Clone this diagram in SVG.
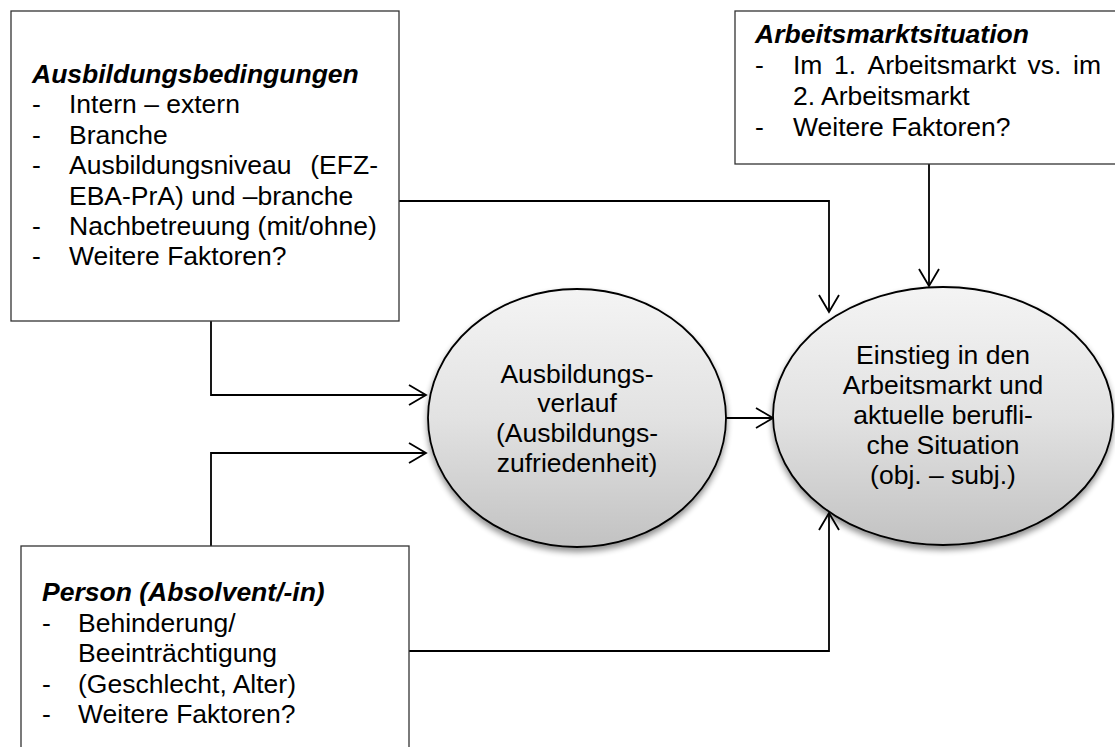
<svg xmlns="http://www.w3.org/2000/svg" width="1115" height="747" viewBox="0 0 1115 747">
<style>
.box{fill:#fff;stroke:#333;stroke-width:1.3}
.t{font-family:"Liberation Sans",Arial,sans-serif;font-size:26.5px;fill:#000}
.h{font-weight:bold;font-style:italic}
.c{text-anchor:middle}
.ell{fill:url(#g);stroke:#000;stroke-width:1.8}
.con{fill:none;stroke:#000;stroke-width:1.8}
</style>
<defs>
<linearGradient id="g" x1="0" y1="0" x2="0" y2="1">
<stop offset="0" stop-color="#f4f4f4"/>
<stop offset="0.5" stop-color="#e2e2e2"/>
<stop offset="1" stop-color="#c2c2c2"/>
</linearGradient>
<filter id="sh" x="-20%" y="-20%" width="140%" height="150%">
<feGaussianBlur in="SourceAlpha" stdDeviation="3"/>
<feOffset dy="4" result="b"/>
<feComponentTransfer><feFuncA type="linear" slope="0.45"/></feComponentTransfer>
<feMerge><feMergeNode/><feMergeNode in="SourceGraphic"/></feMerge>
</filter>
<marker id="a" viewBox="0 0 20 22" refX="18" refY="11" markerWidth="20" markerHeight="22" markerUnits="userSpaceOnUse" orient="auto">
<path d="M1,1 L18,11 L1,21" fill="none" stroke="#000" stroke-width="1.8"/>
</marker>
</defs>

<g id="connectors">
<path class="con" d="M399,201 H829 V312" marker-end="url(#a)"/>
<path class="con" d="M929,164 V286" marker-end="url(#a)"/>
<path class="con" d="M211,321 V395 H426" marker-end="url(#a)"/>
<path class="con" d="M211,546 V453 H426" marker-end="url(#a)"/>
<path class="con" d="M726,418 H773" marker-end="url(#a)"/>
<path class="con" d="M409,651 H829 V513" marker-end="url(#a)"/>
</g>

<g id="ausbildungsbedingungen">
<rect class="box" x="11" y="11" width="388" height="310"/>
<text class="t h" x="32" y="83">Ausbildungsbedingungen</text>
<text class="t" x="32" y="113">-</text><text class="t" x="69" y="113">Intern – extern</text>
<text class="t" x="32" y="144">-</text><text class="t" x="69" y="144">Branche</text>
<text class="t" x="32" y="174">-</text><text class="t" x="69" y="174">Ausbildungsniveau</text><text class="t" x="378" y="174" text-anchor="end">(EFZ-</text>
<text class="t" x="69" y="205">EBA-PrA) und –branche</text>
<text class="t" x="32" y="235">-</text><text class="t" x="69" y="235">Nachbetreuung (mit/ohne)</text>
<text class="t" x="32" y="265">-</text><text class="t" x="69" y="265">Weitere Faktoren?</text>
</g>

<g id="arbeitsmarktsituation">
<rect class="box" x="735" y="11" width="385" height="153"/>
<text class="t h" x="755" y="43">Arbeitsmarktsituation</text>
<text class="t" x="755" y="74">-</text>
<text class="t" y="74"><tspan x="793">Im</tspan><tspan x="834">1.</tspan><tspan x="867.5">Arbeitsmarkt</tspan><tspan x="1027.5">vs.</tspan></text>
<text class="t" x="1101" y="74" text-anchor="end">im</text>
<text class="t" x="793" y="105">2. Arbeitsmarkt</text>
<text class="t" x="755" y="136">-</text><text class="t" x="793" y="136">Weitere Faktoren?</text>
</g>

<g id="person">
<rect class="box" x="21" y="546" width="388" height="210"/>
<text class="t h" x="42" y="601">Person (Absolvent/-in)</text>
<text class="t" x="42" y="632">-</text><text class="t" x="78" y="632">Behinderung/</text>
<text class="t" x="78" y="662">Beeinträchtigung</text>
<text class="t" x="42" y="693">-</text><text class="t" x="78" y="693">(Geschlecht, Alter)</text>
<text class="t" x="42" y="723">-</text><text class="t" x="78" y="723">Weitere Faktoren?</text>
</g>

<g id="ausbildungsverlauf">
<ellipse class="ell" cx="577" cy="418" rx="149" ry="129" filter="url(#sh)"/>
<text class="t c" x="577" y="383">Ausbildungs-</text>
<text class="t c" x="577" y="412">verlauf</text>
<text class="t c" x="577" y="442">(Ausbildungs-</text>
<text class="t c" x="577" y="472">zufriedenheit)</text>
</g>

<g id="einstieg">
<ellipse class="ell" cx="943" cy="416" rx="170" ry="129" filter="url(#sh)"/>
<text class="t c" x="943" y="364">Einstieg in den</text>
<text class="t c" x="943" y="394">Arbeitsmarkt und</text>
<text class="t c" x="943" y="424">aktuelle berufli-</text>
<text class="t c" x="943" y="454">che Situation</text>
<text class="t c" x="943" y="484">(obj. – subj.)</text>
</g>
</svg>
